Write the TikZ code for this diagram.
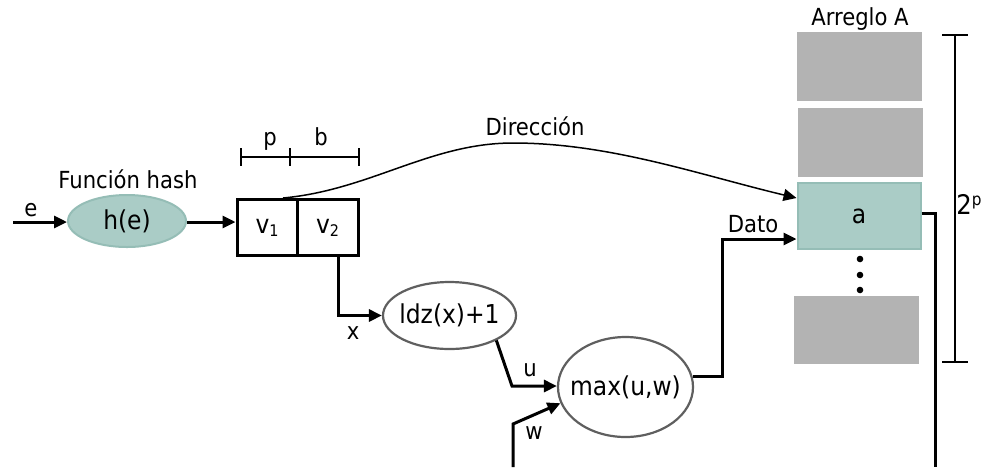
\documentclass[tikz,border=0pt]{standalone}
\usepackage{fontspec}
\setmainfont{DejaVu Sans Condensed}
\usetikzlibrary{shapes.geometric,arrows.meta}
\definecolor{tealfill}{HTML}{AACCC6}
\definecolor{tealedge}{HTML}{95BDB6}
\definecolor{slotgray}{HTML}{B3B3B3}
\definecolor{elledge}{HTML}{5F5F5F}
\begin{document}
\begin{tikzpicture}[x=1pt,y=-1pt,
  lbl/.style={font=\fontsize{23.5}{27}\selectfont, inner sep=0pt},
  txt/.style={font=\fontsize{26}{30}\selectfont},
  conn/.style={line width=3pt, -{Triangle[length=13pt,width=12pt]}},
  plainconn/.style={line width=3pt},
  thinconn/.style={line width=1.5pt, -{Triangle[length=13pt,width=12pt]}},
  ell/.style={ellipse, draw=elledge, line width=2.2pt, fill=white, inner sep=0pt, txt},
  hashell/.style={ellipse, draw=tealedge, line width=2pt, fill=tealfill, inner sep=0pt, txt},
  cell/.style={rectangle, draw=black, line width=3pt, inner sep=0pt, txt},
  slot/.style={rectangle, fill=slotgray, inner sep=0pt, minimum width=125pt},
  dimline/.style={line width=2.5pt}
]
\useasboundingbox (0,0) rectangle (982,467);

% input
\coordinate (ein) at (13,222);
\node[hashell, minimum width=118pt, minimum height=52pt] (h) at (127,221) {h(e)};
\node[lbl] (elbl) at (31,210) {e};
\node[lbl, anchor=base] (fh) at (128,188) {Función hash};
\draw[conn] (ein) -- (h.west |- ein);

% v1 v2 cells
\node[cell, minimum width=60pt, minimum height=56pt] (v1) at (267,227.5) {v\raisebox{-3pt}{\fontsize{16}{16}\selectfont 1}};
\node[cell, minimum width=61pt, minimum height=56pt] (v2) at (327.5,227.5) {v\raisebox{-3pt}{\fontsize{16}{16}\selectfont 2}};
\draw[conn] (h.east |- ein) -- (v1.west |- ein);

% p / b dimension
\draw[dimline] (241,157) -- (359,157);
\draw[dimline] (241,148) -- (241,166);
\draw[dimline] (290,148) -- (290,166);
\draw[dimline] (359,148) -- (359,166);
\node[lbl, anchor=base] (plbl) at (270,145) {p};
\node[lbl, anchor=base] (blbl) at (321,145) {b};

% ldz
\node[ell, minimum width=133pt, minimum height=67pt] (ldz) at (449.5,315.5) {\makebox[0pt]{ldz(x)+1}};
\coordinate (xs) at (338,256);
\draw[conn] (xs) |- (ldz.west);
\node[lbl] (xlbl) at (353,333) {x};

% max
\node[ell, minimum width=135pt, minimum height=100pt] (mx) at (625.5,387) {\makebox[0pt]{max(u,w)}};
\coordinate (ub) at (512,386);
\draw[conn] (ldz.-28) -- (ub) -- (mx.west |- ub);
\node[lbl] (ulbl) at (530,370) {u};
\coordinate (wb) at (513,467);
\coordinate (wk) at (513,424);
\draw[conn] (wb) -- (wk) -- (mx.194);
\node[lbl] (wlbl) at (534,433) {w};

% array
\node[lbl, anchor=base] (arr) at (860,25) {Arreglo A};
\node[slot, minimum height=69pt] (s1) at (859.5,66.5) {};
\node[slot, minimum height=69pt] (s2) at (860.5,142.5) {};
\node[rectangle, draw=tealedge, line width=2pt, fill=tealfill, minimum width=123pt, minimum height=66pt, inner sep=0pt, txt] (sa) at (859,216) {a};
\node[slot, minimum height=68pt] (s4) at (856.5,330) {};
\fill (860,259) circle (3.3pt) (860,275) circle (3.3pt) (860,290) circle (3.3pt);

% 2^p bracket
\draw[dimline] (955,35) -- (955,362);
\draw[dimline] (942,35) -- (968,35);
\draw[dimline] (942,362) -- (968,362);
\node[inner sep=0pt, font=\fontsize{27}{30}\selectfont] (twop) at (969,204) {2\raisebox{9pt}{\fontsize{17}{17}\selectfont p}};

% Direccion curve
\draw[thinconn] ([xshift=16pt]v1.north) .. controls (370,190) and (430,143) .. (513,143)
   .. controls (610,143) and (700,175) .. ([yshift=18pt]sa.west);
\node[lbl, anchor=base] (dir) at (535,135) {Dirección};

% Dato
\coordinate (dt) at (722,239);
\draw[conn] (mx.9) -| (dt) -- (dt -| sa.west);
\node[lbl, anchor=base] (dato) at (753,232) {Dato};

% output
\coordinate (ob) at (935,467);
\draw[plainconn] ([yshift=3pt]sa.east) -| (ob);
\end{tikzpicture}
\end{document}
